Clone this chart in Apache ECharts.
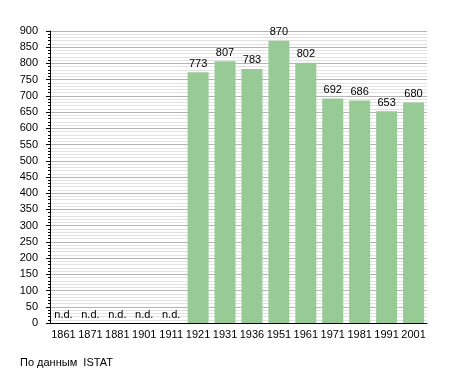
<!DOCTYPE html>
<html><head><meta charset="utf-8">
<script src="https://cdn.jsdelivr.net/npm/echarts@6/dist/echarts.min.js"></script>
<style>html,body{margin:0;padding:0;background:#fff}#c{width:455px;height:373px}</style>
</head><body><div id="c"></div>
<script>
var categories = ['1861','1871','1881','1901','1911','1921','1931','1936','1951','1961','1971','1981','1991','2001'];
var population = [null,null,null,null,null,773,807,783,870,802,692,686,653,680];
var yTicks = {min:0, max:900, interval:50};
var sourceNote = 'По данным  ISTAT';

var font = 'Liberation Sans, Arial, sans-serif';
var barData = population.map(function(v){
  return v === null ? {value:0, nd:true} : {value:v};
});
var chart = echarts.init(document.getElementById('c'), null, {renderer:'canvas'});
chart.setOption({
  animation:false,
  grid:{left:50, right:28, top:31, bottom:50, containLabel:false},
  xAxis:{
    type:'category', data:categories,
    axisLine:{show:true, lineStyle:{color:'#000', width:1}},
    axisTick:{show:false},
    axisLabel:{color:'#000', fontSize:11, fontFamily:font, margin:6, interval:0},
    splitLine:{show:false}
  },
  yAxis:{
    type:'value', min:yTicks.min, max:yTicks.max, interval:yTicks.interval,
    axisLine:{show:true, lineStyle:{color:'#000', width:1}},
    axisTick:{show:true, length:4, lineStyle:{color:'#000'}},
    minorTick:{show:true, splitNumber:5, length:2, lineStyle:{color:'#000'}},
    axisLabel:{color:'#000', fontSize:11, fontFamily:font, margin:12},
    splitLine:{show:true, lineStyle:{color:'#b4b4b4', width:1}},
    minorSplitLine:{show:true, lineStyle:{color:'#e2e2e2', width:1}}
  },
  series:[{
    type:'bar', data:barData, barCategoryGap:'22%',
    itemStyle:{color:'#98ca96'},
    label:{show:true, position:'top', distance:3, color:'#000', fontSize:11, fontFamily:font,
      formatter:function(p){ return p.data.nd ? 'n.d.' : String(p.value); }}
  }],
  graphic:[{type:'text', left:20, top:357, style:{text:sourceNote, fill:'#000', font:'11px '+font}}]
});
</script></body></html>
